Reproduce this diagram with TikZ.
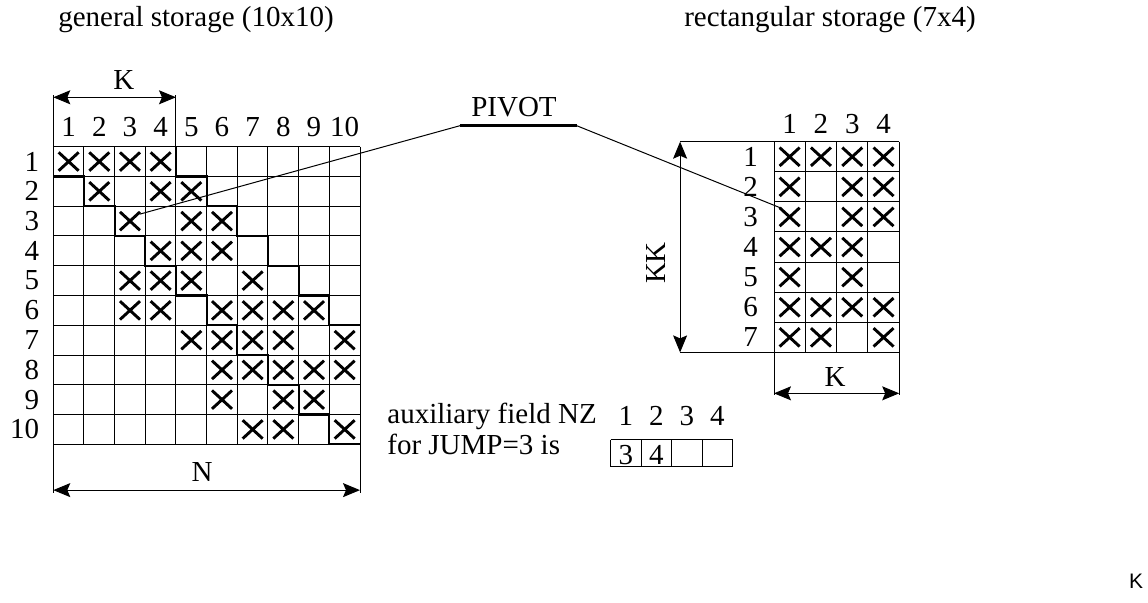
\documentclass[tikz,border=0pt]{standalone}
\usepackage{fontspec}
\setmainfont{Liberation Serif}
\newfontfamily\strayfont{Liberation Sans}
\usetikzlibrary{arrows.meta}

\begin{document}
\begin{tikzpicture}[x=0.5pt, y=-0.5pt,
    lbl/.style={font=\fontsize{14.5}{16}\selectfont, inner sep=0pt},
    cellline/.style={line width=0.5pt},
    profile/.style={line width=1.1pt},
    xstroke/.style={line width=1.45pt},
    extline/.style={line width=0.5pt},
    dimarrow/.style={{Stealth[length=8.5pt,width=7pt,inset=1.5pt]}-{Stealth[length=8.5pt,width=7pt,inset=1.5pt]}, line width=0.5pt},
    leader/.style={line width=0.5pt},
    pivotbar/.style={line width=1.2pt}
  ]
  \useasboundingbox (0,0) rectangle (1148,603);

  \node[lbl, anchor=base] (gtitle) at (196,27) {general storage (10x10)};
  \node[lbl, anchor=base] (rtitle) at (830,27) {rectangular storage (7x4)};

  % general storage
  \begin{scope}[xshift=26.65pt, yshift=-73.35pt, x=15.335pt, y=-14.88pt]
    \foreach \i in {0,...,10} {
      \draw[cellline] (\i,0) -- (\i,10);
      \draw[cellline] (0,\i) -- (10,\i);
    }
    \foreach \i in {1,...,10} {
      \node[lbl] (gcol\i) at (\i-0.5,-0.67) {\i};
      \node[lbl, anchor=east] (grow\i) at (-0.45,\i-0.5) {\i};
    }
    \draw[profile] (0,1) -| (1,2) -| (2,3) -| (3,4) -| (4,5) -| (5,6) -| (6,7) -| (7,8) -| (8,9) -| (9,10) -- (10,10);
    \draw[profile] (4,0) |- (5,1) |- (6,2) |- (7,3) |- (8,4) |- (9,5) |- (10,6);
    \foreach \r/\cols in {1/{1,2,3,4}, 2/{2,4,5}, 3/{3,5,6}, 4/{4,5,6}, 5/{3,4,5,7},
        6/{3,4,6,7,8,9}, 7/{5,6,7,8,10}, 8/{6,7,8,9,10}, 9/{6,8,9}, 10/{7,8,10}}
      \foreach \c in \cols {
        \coordinate (gx\r-\c) at (\c-0.5,\r-0.5);
        \draw[xstroke] (gx\r-\c) +(-5pt,-4.6pt) -- +(5pt,4.6pt) +(-5pt,4.6pt) -- +(5pt,-4.6pt);
      }

    \coordinate (gK1) at (0,-1.66);
    \coordinate (gK2) at (4,-1.66);
    \draw[extline] (0,0) -- (0,-1.75);
    \draw[extline] (4,0) -- (4,-1.75);
    \draw[dimarrow] (gK1) -- (gK2);
    \node[lbl] (gKlabel) at (2.3,-2.23) {K};

    \coordinate (gN1) at (0,11.54);
    \coordinate (gN2) at (10,11.54);
    \draw[extline] (0,10) -- (0,11.62);
    \draw[extline] (10,10) -- (10,11.62);
    \draw[dimarrow] (gN1) -- (gN2);
    \node[lbl] (gNlabel) at (4.85,10.92) {N};
  \end{scope}

  % rectangular storage
  \begin{scope}[xshift=387pt, yshift=-70.85pt, x=15.65pt, y=-15.05pt]
    \foreach \i in {0,...,4}
      \draw[cellline] (\i,0) -- (\i,7);
    \foreach \j in {0,...,7}
      \draw[cellline] (0,\j) -- (4,\j);
    \foreach \i in {1,...,4}
      \node[lbl] (rcol\i) at (\i-0.5,-0.58) {\i};
    \foreach \j in {1,...,7}
      \node[lbl, anchor=east] (rrow\j) at (-0.5,\j-0.5) {\j};
    \foreach \r/\cols in {1/{1,2,3,4}, 2/{1,3,4}, 3/{1,3,4}, 4/{1,2,3}, 5/{1,3},
        6/{1,2,3,4}, 7/{1,2,4}}
      \foreach \c in \cols {
        \coordinate (rx\r-\c) at (\c-0.5,\r-0.5);
        \draw[xstroke] (rx\r-\c) +(-5pt,-4.6pt) -- +(5pt,4.6pt) +(-5pt,4.6pt) -- +(5pt,-4.6pt);
      }

    \coordinate (rKK1) at (-3,0);
    \coordinate (rKK2) at (-3,7);
    \draw[extline] (rKK1) -- (0,0);
    \draw[extline] (rKK2) -- (0,7);
    \draw[dimarrow] (rKK1) -- (rKK2);
    \node[lbl, rotate=90] (rKKlabel) at (-3.78,4.03) {KK};

    \coordinate (rK1) at (0,8.36);
    \coordinate (rK2) at (4,8.36);
    \draw[extline] (0,7) -- (0,8.42);
    \draw[extline] (4,7) -- (4,8.42);
    \draw[dimarrow] (rK1) -- (rK2);
    \node[lbl] (rKlabel) at (1.95,7.81) {K};
  \end{scope}

  % auxiliary field
  \node[lbl, anchor=base west] (auxA) at (387,424) {auxiliary field NZ};
  \node[lbl, anchor=base west] (auxB) at (387,455) {for JUMP=3 is};
  \begin{scope}[xshift=305.35pt, yshift=-220pt, x=15.25pt, y=-13.35pt]
    \foreach \i in {0,...,4}
      \draw[cellline] (\i,0) -- (\i,1);
    \draw[cellline] (0,0) -- (4,0) (0,1) -- (4,1);
    \foreach \i in {1,...,4}
      \node[lbl, anchor=base] (nzcol\i) at (\i-0.5,-0.56) {\i};
    \node[lbl, anchor=base] (nz1) at (0.5,0.9) {3};
    \node[lbl, anchor=base] (nz2) at (1.5,0.9) {4};
  \end{scope}

  % pivot
  \node[lbl, anchor=base] (pivot) at (514,116.7) {PIVOT};
  \coordinate (pivL) at (460,125.7);
  \coordinate (pivR) at (576.7,125.7);
  \coordinate (pivA) at ([shift={(5pt,3.5pt)}]gx3-3);
  \coordinate (pivB) at ([shift={(-4.5pt,4.5pt)}]rx3-1);
  \draw[pivotbar] (pivL) -- (pivR);
  \draw[leader] (pivL) -- (pivA);
  \draw[leader] (pivR) -- (pivB);

  \node[font=\strayfont\fontsize{10.5}{12}\selectfont, inner sep=0pt] (strayK) at (1136,581) {K};
\end{tikzpicture}
\end{document}
